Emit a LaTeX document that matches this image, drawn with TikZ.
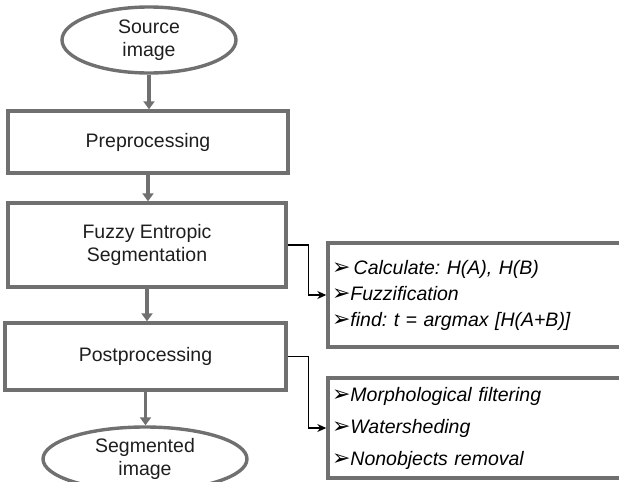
\documentclass[tikz,border=0pt]{standalone}
\usepackage{fontspec}
\setmainfont{Liberation Sans}
\newfontfamily\symfont{DejaVu Sans}
\usetikzlibrary{arrows.meta,shapes.geometric}
\definecolor{framegray}{RGB}{112,112,112}
\definecolor{textgray}{RGB}{30,30,30}
\newcommand{\itm}{{\symfont\upshape\fontsize{22}{22}\selectfont\raisebox{-0.5pt}{➢}}}
\frenchspacing
\begin{document}
\begin{tikzpicture}[x=1pt, y=-1pt, every node/.style={font=\fontsize{19.5}{23}\selectfont, text=textgray},
  stepbox/.style={draw=framegray, line width=3.4pt, rectangle, align=center},
  endbox/.style={draw=framegray, line width=3.4pt, ellipse, align=center, inner sep=0pt},
  listbox/.style={draw=framegray, line width=3.4pt, rectangle, align=left, inner xsep=4pt,
    font=\fontsize{19.5}{32}\selectfont\itshape, text=black},
  flow/.style={draw=framegray, line width=3.4pt, -{Triangle[length=8pt,width=11pt]}},
  link/.style={draw=black, line width=1.1pt, -{Stealth[length=9pt,width=8pt]}}]
\useasboundingbox (0,0) rectangle (619,482);
\clip (0,0) rectangle (619,482);
% main chain
\node[endbox, minimum width=174pt, minimum height=66pt] (src) at (149,40) {Source\\image};
\node[stepbox, minimum width=280pt, minimum height=62pt] (pre) at (148,142) {Preprocessing};
\node[stepbox, minimum width=278pt, minimum height=84pt] (fes) at (147,245) {Fuzzy Entropic\\Segmentation};
\node[stepbox, minimum width=281pt, minimum height=67pt] (post) at (145.5,356.5) {Postprocessing};
\node[endbox, minimum width=204pt, minimum height=64pt] (seg) at (145,459) {Segmented\\image};
% detail lists
\node[listbox, text width=304pt, minimum height=104pt] (calc) at (484,295)
  {\itm\,Calculate: H(A), H(B)\\[-6pt]\itm Fuzzification\\[-6pt]\itm find: t = argmax [H(A+B)]};
\node[listbox, text width=314pt, minimum height=100pt] (morph) at (489,428)
  {\itm Morphological filtering\\\itm Watersheding\\\itm Nonobjects removal};
\draw[flow] (src.south) -- (src.south |- pre.north);
\draw[flow] (pre.south) -- (pre.south |- fes.north);
\draw[flow] (fes.south) -- (fes.south |- post.north);
\draw[flow] (post.south) -- (post.south |- seg.north);
\draw[link] (fes.east) -- ++(21,0) |- (calc.west);
\draw[link] (post.east) -- ++(21,0) |- (morph.west);
\end{tikzpicture}
\end{document}
